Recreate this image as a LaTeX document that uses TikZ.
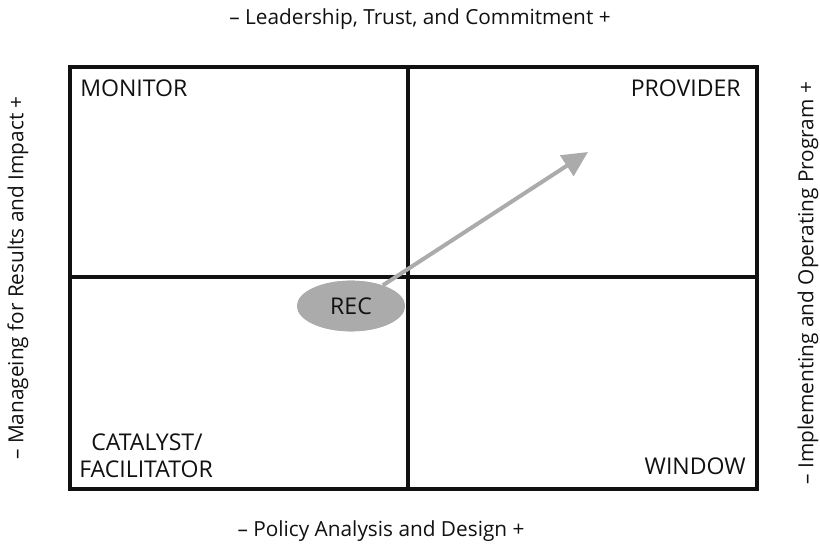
\documentclass[tikz,border=0pt]{standalone}
\usepackage{fontspec}
\setmainfont{Open Sans}
\usepackage{xcolor}
\usetikzlibrary{calc,arrows.meta,shapes.geometric}
\definecolor{ink}{HTML}{111111}
\definecolor{shade}{HTML}{ABABAB}
\tikzset{
  frame/.style={draw=ink, line width=2.4pt},
  lab/.style={text=ink, font=\fontsize{17.3}{20.5}\selectfont, inner sep=0pt},
  axislab/.style={text=ink, font=\fontsize{15.6}{18}\selectfont, inner sep=0pt},
  move/.style={draw=shade, line width=3pt, -{Triangle[length=19pt,width=18pt]}},
  blob/.style={ellipse, fill=shade, minimum width=81pt, minimum height=38pt, inner sep=0pt,
    text=ink, font=\fontsize{17.3}{20.5}\selectfont},
}
\begin{document}
\begin{tikzpicture}[x=0.75pt,y=-0.75pt]
  \useasboundingbox (0,0) rectangle (820,548);
  \coordinate (TL) at (70,67);
  \coordinate (BR) at (757,489);
  \coordinate (C) at (408,277);

  \draw[frame] (TL) rectangle (BR);
  \draw[frame] (C |- TL) -- (C |- BR);
  \draw[frame] (TL |- C) -- (BR |- C);

  \node[blob] (rec) at (351,306) {REC};
  \coordinate (tip) at (588,152);
  \draw[move] (rec) -- (tip);
  \node[blob] at (rec) {REC}; % keep the ellipse on top

  \node[lab,anchor=north west] (monitor) at (80,80) {MONITOR};
  \node[lab,anchor=north east] (provider) at (741,80) {PROVIDER};
  \node[lab,anchor=south west,align=left] (catalyst) at (79,478)
    {\hspace*{9pt}CATALYST/\\FACILITATOR};
  \node[lab,anchor=south east] (window) at (746,475) {WINDOW};

  \node[axislab] (top) at (420,19) {– Leadership, Trust, and Commitment +};
  \node[axislab] (bottom) at (381,531) {– Policy Analysis and Design +};
  \node[axislab,rotate=90] (left) at (18,278) {– Manageing for Results and Impact +};
  \node[axislab,rotate=90] (right) at (808,283) {– Implementing and Operating Program +};
\end{tikzpicture}
\end{document}
